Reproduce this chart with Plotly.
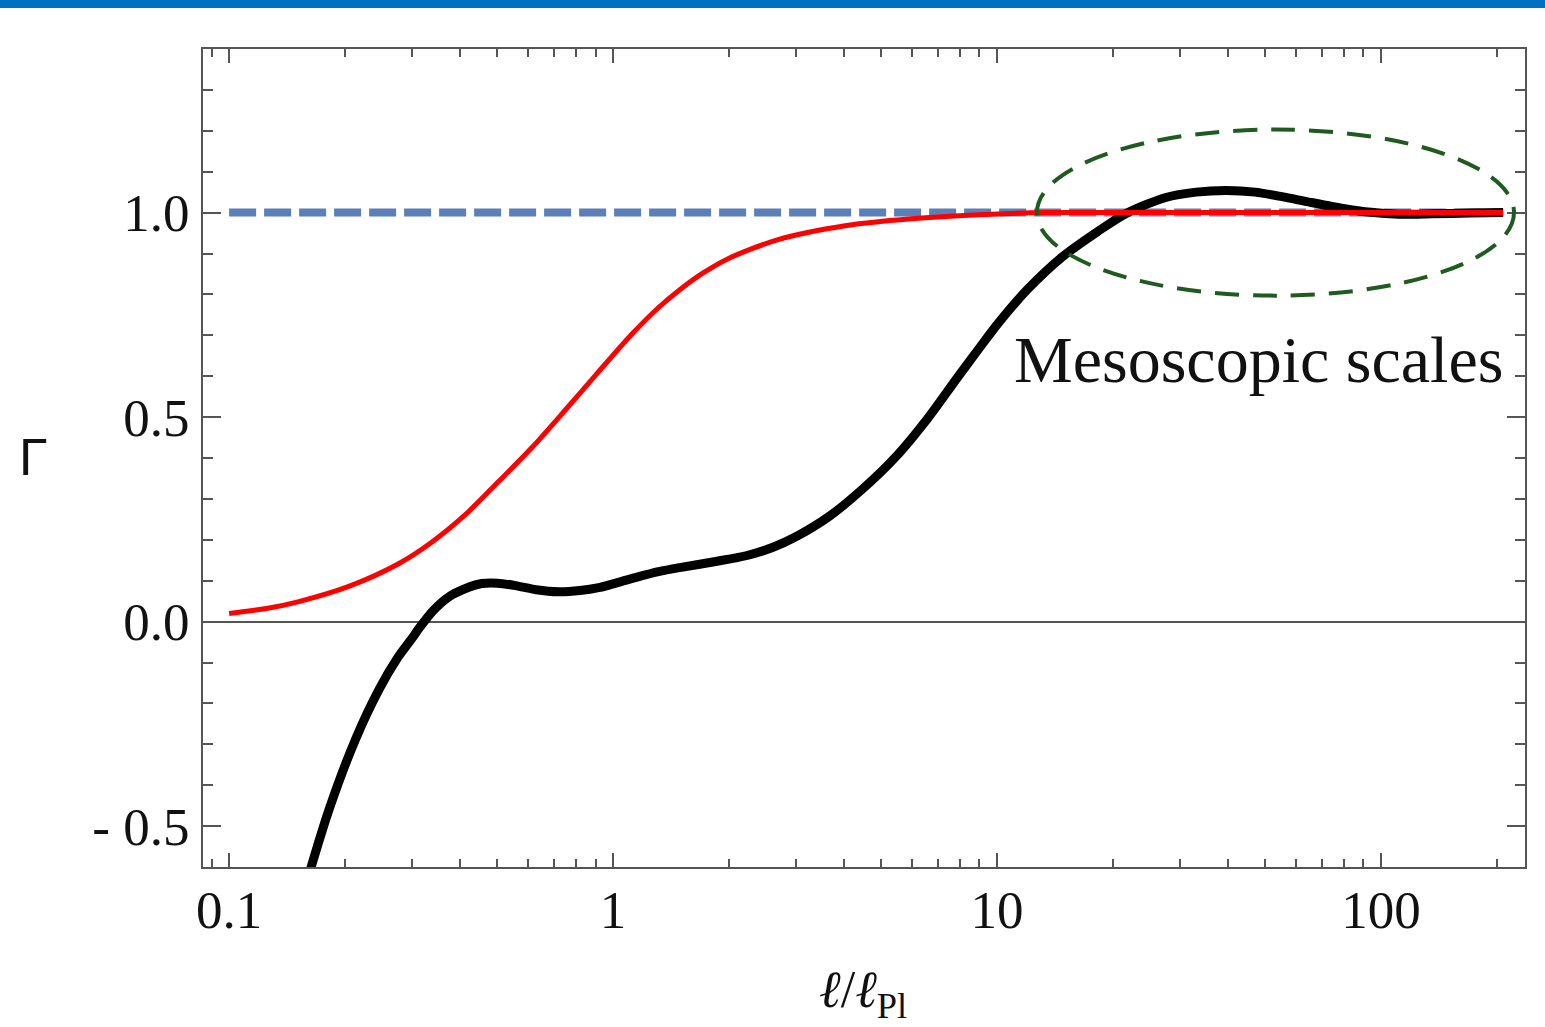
import plotly.graph_objects as go

# ---- data ----
x_black = [0.16, 0.182, 0.214, 0.246, 0.275, 0.300, 0.312, 0.340, 0.374, 0.413, 0.455, 0.500,
           0.557, 0.630, 0.721, 0.820, 0.917, 1.117, 1.313, 1.49, 1.85, 2.22, 2.6, 3.0, 3.65,
           4.45, 5.45, 6.65, 7.82, 8.9, 10.1, 12.0, 14.8, 18.3, 21.7, 27.5, 33.0, 39.5, 47.0,
           55.2, 64.0, 74.5, 91, 111, 136, 170, 208]
y_black = [-0.63, -0.46, -0.285, -0.165, -0.088, -0.040, -0.017, 0.027, 0.061, 0.081, 0.093,
           0.094, 0.088, 0.078, 0.073, 0.076, 0.083, 0.105, 0.122, 0.132, 0.147, 0.161, 0.181,
           0.208, 0.257, 0.323, 0.403, 0.501, 0.592, 0.663, 0.731, 0.812, 0.892, 0.954, 0.998,
           1.037, 1.050, 1.054, 1.050, 1.039, 1.027, 1.015, 1.002, 0.996, 0.997, 0.999, 1.0]

x_red = [0.1, 0.125, 0.152, 0.205, 0.277, 0.337, 0.413, 0.504, 0.614, 0.752, 0.917, 1.117,
         1.314, 1.481, 1.72, 2.0, 2.69, 4.02, 5.98, 8.93, 13.3, 30, 208]
y_red = [0.020, 0.032, 0.049, 0.086, 0.142, 0.194, 0.262, 0.343, 0.425, 0.518, 0.611, 0.702,
         0.768, 0.809, 0.853, 0.888, 0.934, 0.968, 0.985, 0.995, 1.0, 1.0, 1.0]

x_ref = [0.1, 208]
y_ref = [1.0, 1.0]

x_tickvals = [0.1, 1, 10, 100]
x_ticktext = ["0.1", "1", "10", "100"]
y_tickvals = [-0.5, 0.0, 0.5, 1.0]
y_ticktext = ["- 0.5", "0.0", "0.5", "1.0"]

ellipse_x = [12.7, 222]
ellipse_y = [0.797, 1.203]
label_text = "Mesoscopic scales"

# ---- figure ----
W, H = 1545, 1027
ML, MR, MT, MB = 203, 20, 49, 160
PW, PH = W - ML - MR, H - MT - MB

fig = go.Figure()
fig.add_trace(go.Scatter(x=x_ref, y=y_ref, mode="lines",
                         line=dict(color="#5b7fb8", width=8, dash="27px,8px"),
                         hoverinfo="skip"))
fig.add_trace(go.Scatter(x=x_black, y=y_black, mode="lines",
                         line=dict(color="black", width=9, shape="spline", smoothing=0.8),
                         hoverinfo="skip"))
fig.add_trace(go.Scatter(x=x_red, y=y_red, mode="lines",
                         line=dict(color="#ff0000", width=5, shape="spline", smoothing=0.8),
                         hoverinfo="skip"))

minor_x = [m * 10 ** e for e in range(-2, 3) for m in range(2, 10)] + [0.09]
minor_y = [round(-0.6 + 0.1 * i, 1) for i in range(21)]

axcol = "#555555"
tickfont = dict(family="Liberation Serif, Times New Roman, serif", size=53, color="#111")

fig.update_xaxes(type="log", range=[-1.068, 2.375], tickmode="array",
                 tickvals=x_tickvals, ticktext=x_ticktext,
                 ticks="inside", ticklen=14, tickwidth=2, tickcolor=axcol,
                 showline=True, linecolor=axcol, linewidth=2, mirror="ticks",
                 showgrid=False, zeroline=False, tickfont=tickfont, ticklabelstandoff=-5,
                 minor=dict(tickmode="array", tickvals=minor_x, ticks="inside", ticklen=8,
                            tickwidth=2, tickcolor=axcol, showgrid=False))
fig.update_yaxes(range=[-0.6, 1.4], tickmode="array",
                 tickvals=y_tickvals, ticktext=y_ticktext,
                 ticks="inside", ticklen=18, tickwidth=2, tickcolor=axcol,
                 showline=True, linecolor=axcol, linewidth=2, mirror="ticks",
                 showgrid=False, zeroline=True, zerolinecolor=axcol, zerolinewidth=2,
                 tickfont=tickfont, ticklabelstandoff=1,
                 minor=dict(tickmode="array", tickvals=minor_y, ticks="inside", ticklen=10,
                            tickwidth=2, tickcolor=axcol, showgrid=False))

fig.add_shape(type="circle", xref="x", yref="y",
              x0=ellipse_x[0], x1=ellipse_x[1], y0=ellipse_y[0], y1=ellipse_y[1],
              line=dict(color="#1f5a1f", width=4, dash="24px,14px"), layer="above")

# top blue bar
fig.add_shape(type="rect", xref="paper", yref="paper",
              x0=-ML / PW, x1=1 + MR / PW, y0=(MT + PH - 8) / PH, y1=(MT + PH + 2) / PH,
              fillcolor="#0070c0", line=dict(width=0), layer="above")

fig.add_annotation(x=2.322, y=0.64, xref="x", yref="y", text=label_text, showarrow=False,
                   xanchor="right", yanchor="middle",
                   font=dict(family="Liberation Serif, Times New Roman, serif", size=66, color="#111"))
fig.add_annotation(x=-170 / PW, y=(MT + PH - 457) / PH, xref="paper", yref="paper", text="Γ",
                   showarrow=False, xanchor="center", yanchor="middle",
                   font=dict(family="Liberation Sans, Arial, sans-serif", size=52, color="#111"))
fig.add_annotation(x=(863 - ML) / PW, y=-(994 - MT - PH) / PH, xref="paper", yref="paper",
                   text="<i>ℓ</i>/<i>ℓ</i><sub>Pl</sub>", showarrow=False,
                   xanchor="center", yanchor="middle",
                   font=dict(family="Liberation Serif, Times New Roman, serif", size=52, color="#111"))

fig.update_layout(width=W, height=H, margin=dict(l=ML, r=MR, t=MT, b=MB),
                  paper_bgcolor="white", plot_bgcolor="white", showlegend=False)

fig.write_html("out.html")
